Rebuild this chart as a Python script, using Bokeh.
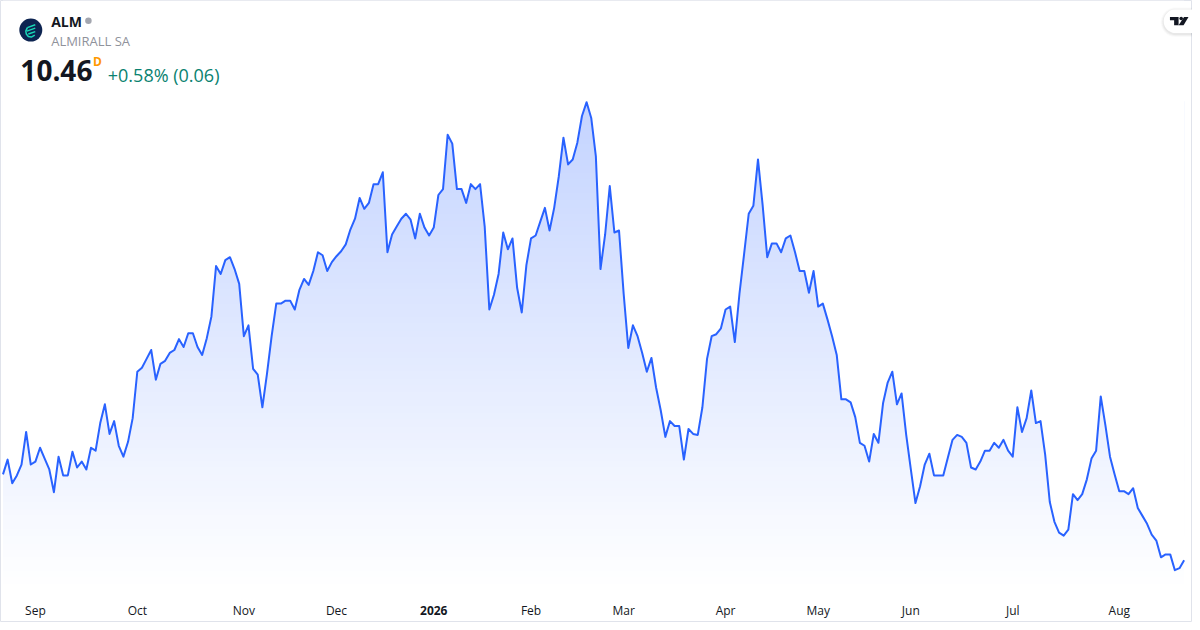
from bokeh.plotting import figure
from bokeh.models import Range1d
from bokeh.core.properties import value
from bokeh.embed import file_html
from bokeh.resources import INLINE
import numpy as np

title = "ALM"
subtitle = "ALMIRALL SA"
last_price = "10.46"
interval = "D"
change = "+0.58% (0.06)"

tick_idx = [7, 29, 52, 72, 93, 114, 134, 156, 176, 196, 218, 241]
tick_labels = ["Sep", "Oct", "Nov", "Dec", "2026", "Feb", "Mar", "Apr", "May", "Jun", "Jul", "Aug"]
tick_styles = ["normal"] * 4 + ["bold"] + ["normal"] * 7

prices = [
    11.33, 11.48, 11.24, 11.32, 11.43, 11.76, 11.43, 11.46, 11.60, 11.49,
    11.38, 11.15, 11.51, 11.32, 11.32, 11.56, 11.40, 11.46, 11.38, 11.60,
    11.57, 11.85, 12.04, 11.74, 11.87, 11.62, 11.51, 11.66, 11.90, 12.37,
    12.41, 12.50, 12.59, 12.29, 12.45, 12.48, 12.56, 12.59, 12.70, 12.62,
    12.76, 12.76, 12.62, 12.54, 12.71, 12.93, 13.44, 13.36, 13.50, 13.53,
    13.41, 13.26, 12.73, 12.84, 12.40, 12.34, 12.01, 12.35, 12.73, 13.06,
    13.06, 13.09, 13.09, 13.00, 13.20, 13.31, 13.25, 13.39, 13.58, 13.55,
    13.39, 13.48, 13.54, 13.59, 13.66, 13.81, 13.92, 14.13, 14.02, 14.08,
    14.27, 14.27, 14.39, 13.58, 13.76, 13.84, 13.92, 13.97, 13.91, 13.72,
    13.97, 13.83, 13.75, 13.83, 14.16, 14.22, 14.77, 14.68, 14.22, 14.22,
    14.08, 14.27, 14.22, 14.27, 13.84, 13.00, 13.15, 13.36, 13.78, 13.61,
    13.72, 13.22, 12.97, 13.45, 13.72, 13.75, 13.89, 14.03, 13.80, 14.03,
    14.35, 14.74, 14.47, 14.52, 14.69, 14.96, 15.10, 14.94, 14.55, 13.41,
    13.76, 14.25, 13.78, 13.80, 13.16, 12.61, 12.84, 12.73, 12.56, 12.37,
    12.51, 12.21, 11.98, 11.71, 11.87, 11.82, 11.82, 11.48, 11.79, 11.74,
    11.73, 12.01, 12.50, 12.73, 12.75, 12.81, 13.00, 13.03, 12.67, 13.16,
    13.56, 13.97, 14.05, 14.52, 14.06, 13.53, 13.67, 13.67, 13.58, 13.72,
    13.75, 13.58, 13.39, 13.39, 13.17, 13.39, 13.03, 13.06, 12.90, 12.73,
    12.54, 12.09, 12.09, 12.06, 11.91, 11.65, 11.62, 11.46, 11.74, 11.65,
    12.05, 12.26, 12.37, 12.04, 12.15, 11.73, 11.38, 11.04, 11.21, 11.43,
    11.54, 11.32, 11.32, 11.32, 11.50, 11.68, 11.73, 11.71, 11.65, 11.40,
    11.38, 11.46, 11.57, 11.57, 11.65, 11.60, 11.68, 11.57, 11.51, 12.01,
    11.76, 11.90, 12.18, 11.85, 11.87, 11.53, 11.05, 10.85, 10.74, 10.71,
    10.77, 11.13, 11.07, 11.13, 11.28, 11.49, 11.57, 12.12, 11.83, 11.51,
    11.33, 11.16, 11.16, 11.13, 11.19, 10.99, 10.91, 10.83, 10.72, 10.66,
    10.49, 10.52, 10.52, 10.36, 10.38, 10.46,
]

# Canvas stands for the full 1200x630 card, scaled proportionally
W, H = 1192, 622
PX_PER_I = 4.663
x_start = -2.5 / PX_PER_I
x_end = x_start + 1200 / PX_PER_I
y_top = 16.13
y_bot = 16.13 - 630 / 100


def X(px):
    return x_start + px / PX_PER_I


def Y(py):
    return 16.13 - py / 100


p = figure(width=W, height=H, output_backend="svg", toolbar_location=None,
           x_range=Range1d(x_start, x_end), y_range=Range1d(y_bot, y_top),
           min_border=0, x_axis_type=None, y_axis_type=None)
p.grid.visible = False
p.outline_line_color = "#e0e3eb"
p.outline_line_width = 1
p.background_fill_color = "white"
p.border_fill_color = "white"

idx = np.arange(len(prices))
arr = np.array(prices)

# vertical gradient, then mask everything above the line with white
n = 256
alpha = np.linspace(0.0, 0.28, n)
img = np.zeros((n, 1), dtype=np.uint32)
view = img.view(dtype=np.uint8).reshape((n, 1, 4))
view[:, 0, 0] = 41
view[:, 0, 1] = 98
view[:, 0, 2] = 255
view[:, 0, 3] = (alpha * 255).astype(np.uint8)
p.image_rgba(image=[img], x=0, y=Y(600), dw=len(prices) - 1, dh=Y(102) - Y(600))
p.varea(x=idx, y1=arr, y2=y_top, fill_color="white")
p.line(idx, arr, line_color="#2962ff", line_width=2, line_join="round")

# month labels
p.text(x=tick_idx, y=[Y(618)] * len(tick_idx), text=tick_labels,
       text_font=value("Open Sans"), text_font_size="12px", text_color="#131722",
       text_align="center", text_baseline="middle", text_font_style=tick_styles)


def label(px, py, s, size, color, style="normal", align="left"):
    p.text(x=[X(px)], y=[Y(py)], text=[s], text_font=value("Open Sans"),
           text_font_size=size, text_color=color, text_font_style=style,
           text_align=align, text_baseline="middle")


label(51, 21, title, "14px", "#131722", "bold")
label(51, 41, subtitle, "13px", "#8f929b")
label(20, 71, last_price, "28px", "#131722", "bold")
label(93, 62, interval, "12px", "#ff9800", "bold")
label(108, 75, change, "18px", "#0a8270")

# status dot
p.scatter([X(88.5)], [Y(20.5)], size=6.5, marker="circle", fill_color="#a3a6af", line_color=None)

# company logo
p.scatter([X(30.5)], [Y(30)], size=23, marker="circle", fill_color="#0d2451", line_color=None)
for (ax, ay, bx, by) in [(27, 27.5, 35, 24.5), (26.5, 31, 35, 28), (28, 34, 35, 31.5)]:
    p.line([X(ax), X(bx)], [Y(ay), Y(by)], line_color="#19d7b8", line_width=1.5)
p.line([X(27), X(25.5), X(26), X(28), X(31), X(34.5)], [Y(27.5), Y(31), Y(34), Y(36.5), Y(37), Y(35)],
       line_color="#19d7b8", line_width=1.5)

# TradingView badge
for r, a in [(15, 0.02), (14, 0.03), (13, 0.04)]:
    ts = np.linspace(-np.pi / 2, np.pi / 2, 20)
    p.patch([X(1183 - r * np.cos(t)) for t in ts] + [X(1200), X(1200)],
            [Y(22 + r * np.sin(t)) for t in ts] + [Y(22 + r), Y(22 - r)],
            fill_color="#000000", fill_alpha=a, line_color=None)
ts = np.linspace(-np.pi / 2, np.pi / 2, 24)
p.patch([X(1183 - 12 * np.cos(t)) for t in ts] + [X(1200), X(1200)],
        [Y(21 + 12 * np.sin(t)) for t in ts] + [Y(33), Y(9)],
        fill_color="white", line_color=None)
p.patch([X(v) for v in (1177.3, 1186, 1186, 1181.5, 1181.5, 1177.3)],
        [Y(v) for v in (16.7, 16.7, 25, 25, 20, 20)], fill_color="#131722", line_color=None)
p.patch([X(v) for v in (1186, 1191, 1196, 1191.5)],
        [Y(v) for v in (25, 25, 16.7, 16.7)], fill_color="#131722", line_color=None)
p.scatter([X(1188.6)], [Y(18.3)], size=3.6, marker="circle", fill_color="#131722", line_color=None)

open("out.html", "w").write(file_html(p, INLINE))
